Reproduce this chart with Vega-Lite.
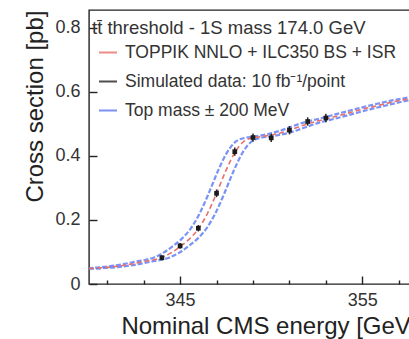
{
  "$schema": "https://vega.github.io/schema/vega-lite/v6.json",
  "width": 328,
  "height": 274,
  "autosize": {"type": "none"},
  "padding": {"left": 89, "top": 10, "right": 0, "bottom": 55},
  "background": "white",
  "datasets": {
    "curve": [
      {"E": 340, "xs": 0.048}, {"E": 340.5, "xs": 0.05}, {"E": 341, "xs": 0.052}, {"E": 341.5, "xs": 0.055},
      {"E": 342, "xs": 0.059}, {"E": 342.5, "xs": 0.064}, {"E": 343, "xs": 0.07}, {"E": 343.5, "xs": 0.075},
      {"E": 344, "xs": 0.083}, {"E": 344.5, "xs": 0.097}, {"E": 345, "xs": 0.117}, {"E": 345.5, "xs": 0.14},
      {"E": 346, "xs": 0.172}, {"E": 346.5, "xs": 0.22}, {"E": 347, "xs": 0.283}, {"E": 347.5, "xs": 0.352},
      {"E": 348, "xs": 0.41}, {"E": 348.5, "xs": 0.445}, {"E": 349, "xs": 0.456}, {"E": 349.5, "xs": 0.46},
      {"E": 350, "xs": 0.465}, {"E": 350.5, "xs": 0.471}, {"E": 351, "xs": 0.48}, {"E": 351.5, "xs": 0.49},
      {"E": 352, "xs": 0.5}, {"E": 352.5, "xs": 0.508}, {"E": 353, "xs": 0.515}, {"E": 354, "xs": 0.53},
      {"E": 355, "xs": 0.545}, {"E": 356, "xs": 0.559}, {"E": 357, "xs": 0.572}, {"E": 358, "xs": 0.582}
    ],
    "band": [
      {"side": "lo", "E": 339.57, "xs": 0.048}, {"side": "lo", "E": 340.07, "xs": 0.05}, {"side": "lo", "E": 340.57, "xs": 0.052},
      {"side": "lo", "E": 341.07, "xs": 0.055}, {"side": "lo", "E": 341.57, "xs": 0.059}, {"side": "lo", "E": 342.07, "xs": 0.064},
      {"side": "lo", "E": 342.57, "xs": 0.07}, {"side": "lo", "E": 343.07, "xs": 0.075}, {"side": "lo", "E": 343.57, "xs": 0.083},
      {"side": "lo", "E": 344.07, "xs": 0.097}, {"side": "lo", "E": 344.57, "xs": 0.117}, {"side": "lo", "E": 345.07, "xs": 0.14},
      {"side": "lo", "E": 345.57, "xs": 0.172}, {"side": "lo", "E": 346.07, "xs": 0.22}, {"side": "lo", "E": 346.57, "xs": 0.283},
      {"side": "lo", "E": 347.07, "xs": 0.352}, {"side": "lo", "E": 347.57, "xs": 0.41}, {"side": "lo", "E": 348.07, "xs": 0.445},
      {"side": "lo", "E": 348.57, "xs": 0.456}, {"side": "lo", "E": 349.07, "xs": 0.46}, {"side": "lo", "E": 349.57, "xs": 0.465},
      {"side": "lo", "E": 350.07, "xs": 0.471}, {"side": "lo", "E": 350.57, "xs": 0.48}, {"side": "lo", "E": 351.07, "xs": 0.49},
      {"side": "lo", "E": 351.57, "xs": 0.5}, {"side": "lo", "E": 352.07, "xs": 0.508}, {"side": "lo", "E": 352.57, "xs": 0.515},
      {"side": "lo", "E": 353.57, "xs": 0.53}, {"side": "lo", "E": 354.57, "xs": 0.545}, {"side": "lo", "E": 355.57, "xs": 0.559},
      {"side": "lo", "E": 356.57, "xs": 0.572}, {"side": "lo", "E": 358.2, "xs": 0.588},
      {"side": "hi", "E": 340, "xs": 0.047}, {"side": "hi", "E": 340.43, "xs": 0.048}, {"side": "hi", "E": 340.93, "xs": 0.05},
      {"side": "hi", "E": 341.43, "xs": 0.052}, {"side": "hi", "E": 341.93, "xs": 0.055}, {"side": "hi", "E": 342.43, "xs": 0.059},
      {"side": "hi", "E": 342.93, "xs": 0.064}, {"side": "hi", "E": 343.43, "xs": 0.07}, {"side": "hi", "E": 343.93, "xs": 0.075},
      {"side": "hi", "E": 344.43, "xs": 0.083}, {"side": "hi", "E": 344.93, "xs": 0.097}, {"side": "hi", "E": 345.43, "xs": 0.117},
      {"side": "hi", "E": 345.93, "xs": 0.14}, {"side": "hi", "E": 346.43, "xs": 0.172}, {"side": "hi", "E": 346.93, "xs": 0.22},
      {"side": "hi", "E": 347.43, "xs": 0.283}, {"side": "hi", "E": 347.93, "xs": 0.352}, {"side": "hi", "E": 348.43, "xs": 0.41},
      {"side": "hi", "E": 348.93, "xs": 0.445}, {"side": "hi", "E": 349.43, "xs": 0.456}, {"side": "hi", "E": 349.93, "xs": 0.46},
      {"side": "hi", "E": 350.43, "xs": 0.465}, {"side": "hi", "E": 350.93, "xs": 0.471}, {"side": "hi", "E": 351.43, "xs": 0.48},
      {"side": "hi", "E": 351.93, "xs": 0.49}, {"side": "hi", "E": 352.43, "xs": 0.5}, {"side": "hi", "E": 352.93, "xs": 0.508},
      {"side": "hi", "E": 353.43, "xs": 0.515}, {"side": "hi", "E": 354.43, "xs": 0.53}, {"side": "hi", "E": 355.43, "xs": 0.545},
      {"side": "hi", "E": 356.43, "xs": 0.559}, {"side": "hi", "E": 357.43, "xs": 0.572}, {"side": "hi", "E": 358.2, "xs": 0.58}
    ],
    "points": [
      {"E": 344, "xs": 0.082, "lo": 0.074, "hi": 0.09},
      {"E": 345, "xs": 0.119, "lo": 0.11, "hi": 0.128},
      {"E": 346, "xs": 0.174, "lo": 0.164, "hi": 0.184},
      {"E": 347, "xs": 0.283, "lo": 0.271, "hi": 0.295},
      {"E": 348, "xs": 0.413, "lo": 0.4, "hi": 0.426},
      {"E": 349, "xs": 0.457, "lo": 0.444, "hi": 0.47},
      {"E": 350, "xs": 0.456, "lo": 0.443, "hi": 0.469},
      {"E": 351, "xs": 0.48, "lo": 0.467, "hi": 0.493},
      {"E": 352, "xs": 0.507, "lo": 0.494, "hi": 0.52},
      {"E": 353, "xs": 0.518, "lo": 0.505, "hi": 0.531}
    ]
  },
  "layer": [
    {
      "data": {"name": "band"},
      "mark": {"type": "line", "clip": true, "strokeWidth": 2.2, "strokeDash": [5, 2], "opacity": 0.8, "interpolate": "monotone"},
      "encoding": {
        "x": {"field": "E", "type": "quantitative",
          "scale": {"domain": [340, 358], "nice": false, "zero": false},
          "axis": {"orient": "bottom", "offset": -8, "tickSize": 8, "tickWidth": 1.4,
            "values": [341, 342, 343, 344, 345, 346, 347, 348, 349, 350, 351, 352, 353, 354, 355, 356, 357],
            "tickDash": {"condition": {"test": "datum.value % 5 !== 0", "value": [0, 4, 4, 30]}, "value": [30, 0]},
            "labelExpr": "datum.value % 5 === 0 ? toString(datum.value) : ''",
            "labelOverlap": false, "labelPadding": 7, "domain": false, "labelFlush": false,
            "title": "Nominal CMS energy [GeV]", "titleX": 328, "titleY": 57, "titleAlign": "right", "titleBaseline": "alphabetic"}},
        "y": {"field": "xs", "type": "quantitative",
          "scale": {"domain": [0, 0.855], "nice": false, "zero": false},
          "axis": {"orient": "left", "offset": -8, "tickSize": 8, "tickWidth": 1.4,
            "values": [0, 0.05, 0.1, 0.15, 0.2, 0.25, 0.3, 0.35, 0.4, 0.45, 0.5, 0.55, 0.6, 0.65, 0.7, 0.75, 0.8, 0.85],
            "tickDash": {"condition": {"test": "round(datum.value * 100) % 20 !== 0", "value": [0, 4, 4, 30]}, "value": [30, 0]},
            "labelExpr": "round(datum.value * 100) % 20 !== 0 ? '' : (datum.value === 0 ? '0' : format(datum.value, '.1f'))",
            "labelOverlap": false, "labelPadding": 9, "domain": false, "labelFlush": false,
            "title": "Cross section [pb]", "titleX": -55, "titleY": 0, "titleAngle": -90, "titleAlign": "right", "titleBaseline": "alphabetic"}},
        "detail": {"field": "side"},
        "color": {"datum": "Top mass ± 200 MeV", "type": "nominal",
          "scale": {"domain": ["TOPPIK NNLO + ILC350 BS + ISR", "Simulated data: 10 fb⁻¹/point", "Top mass ± 200 MeV"],
            "range": ["#e8706a", "#222222", "#5a78f5"]},
          "legend": {"orient": "none", "legendX": 3, "legendY": 9, "title": "tt̄ threshold - 1S mass 174.0 GeV"}}
      }
    },
    {
      "data": {"name": "curve"},
      "mark": {"type": "line", "clip": true, "strokeWidth": 1.6, "strokeDash": [5, 3], "interpolate": "monotone"},
      "encoding": {
        "x": {"field": "E", "type": "quantitative"},
        "y": {"field": "xs", "type": "quantitative"},
        "color": {"datum": "TOPPIK NNLO + ILC350 BS + ISR", "type": "nominal"}
      }
    },
    {
      "data": {"name": "points"},
      "mark": {"type": "rule", "strokeWidth": 1.5},
      "encoding": {
        "x": {"field": "E", "type": "quantitative"},
        "y": {"field": "lo", "type": "quantitative"},
        "y2": {"field": "hi"},
        "color": {"datum": "Simulated data: 10 fb⁻¹/point", "type": "nominal"}
      }
    },
    {
      "data": {"name": "points"},
      "mark": {"type": "point", "shape": "square", "filled": true, "size": 22, "color": "#1a1a1a", "opacity": 1},
      "encoding": {
        "x": {"field": "E", "type": "quantitative"},
        "y": {"field": "xs", "type": "quantitative"}
      }
    }
  ],
  "config": {
    "view": {"stroke": "#222222", "strokeWidth": 1.4},
    "axis": {"grid": false, "domainColor": "#222222", "tickColor": "#222222", "domainWidth": 1.4, "tickWidth": 1.2,
      "labelFont": "Liberation Sans", "labelFontSize": 18, "labelColor": "#333333",
      "titleFont": "Liberation Sans", "titleFontSize": 24, "titleFontWeight": "normal", "titleColor": "#222222"},
    "legend": {"titleFont": "Liberation Sans", "titleFontSize": 18.5, "titleFontWeight": "normal", "titleColor": "#333333",
      "labelFont": "Liberation Sans", "labelFontSize": 17.5, "labelColor": "#333333",
      "symbolType": "stroke", "symbolSize": 676, "symbolStrokeWidth": 2, "symbolDash": [0, 6, 18, 200],
      "rowPadding": 6, "titlePadding": 1, "padding": 0, "labelOffset": 5, "titleLimit": 400, "labelLimit": 400}
  }
}
